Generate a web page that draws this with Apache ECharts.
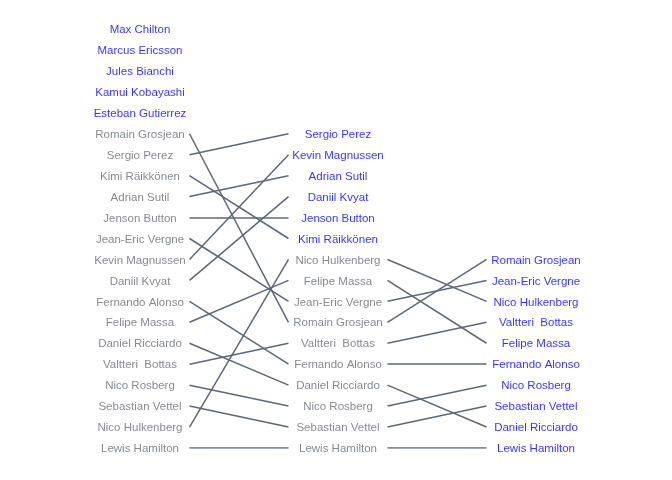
<!DOCTYPE html>
<html>
<head>
<meta charset="utf-8">
<script src="https://cdn.jsdelivr.net/npm/echarts@6/dist/echarts.min.js"></script>
<style>html,body{margin:0;padding:0;background:#fff}#c{width:672px;height:480px}</style>
</head>
<body>
<div id="c"></div>
<script>
var q1 = ["Max Chilton","Marcus Ericsson","Jules Bianchi","Kamui Kobayashi","Esteban Gutierrez","Romain Grosjean","Sergio Perez","Kimi Räikkönen","Adrian Sutil","Jenson Button","Jean-Eric Vergne","Kevin Magnussen","Daniil Kvyat","Fernando Alonso","Felipe Massa","Daniel Ricciardo","Valtteri  Bottas","Nico Rosberg","Sebastian Vettel","Nico Hulkenberg","Lewis Hamilton"];
var q2 = ["Sergio Perez","Kevin Magnussen","Adrian Sutil","Daniil Kvyat","Jenson Button","Kimi Räikkönen","Nico Hulkenberg","Felipe Massa","Jean-Eric Vergne","Romain Grosjean","Valtteri  Bottas","Fernando Alonso","Daniel Ricciardo","Nico Rosberg","Sebastian Vettel","Lewis Hamilton"];
var q3 = ["Romain Grosjean","Jean-Eric Vergne","Nico Hulkenberg","Valtteri  Bottas","Felipe Massa","Fernando Alonso","Nico Rosberg","Sebastian Vettel","Daniel Ricciardo","Lewis Hamilton"];
var columns = [q1, q2, q3];

var total = q1.length;
var GREY = '#676d78', BLUE = '#0000ff', LINE = '#5d6877';
var OFF = 0.25;

function rowOf(col, name) {
  var arr = columns[col];
  var i = arr.indexOf(name);
  return i < 0 ? -1 : i + (total - arr.length);
}

var series = [];
columns.forEach(function (arr, c) {
  var next = columns[c + 1];
  series.push({
    type: 'scatter',
    symbol: 'circle',
    symbolSize: 1,
    itemStyle: { color: 'rgba(0,0,0,0)' },
    silent: true,
    data: arr.map(function (n) {
      var out = !next || next.indexOf(n) < 0;
      return {
        value: [c + 1, rowOf(c, n)],
        label: { color: out ? BLUE : GREY }
      };
    }),
    label: {
      show: true,
      position: 'inside',
      offset: [0, 1],
      fontSize: 11.5,
      fontFamily: 'Liberation Sans, Arial, sans-serif',
      formatter: function (p) { return arr[p.dataIndex]; }
    }
  });
});

var links = [];
for (var c = 0; c < columns.length - 1; c++) {
  columns[c].forEach(function (n) {
    var r2 = rowOf(c + 1, n);
    if (r2 >= 0) {
      links.push({ coords: [[c + 1 + OFF, rowOf(c, n)], [c + 2 - OFF, r2]] });
    }
  });
}
series.push({
  type: 'lines',
  coordinateSystem: 'cartesian2d',
  silent: true,
  lineStyle: { color: LINE, width: 1.5, opacity: 1 },
  data: links
});

var chart = echarts.init(document.getElementById('c'));
chart.setOption({
  animation: false,
  grid: { left: 41, right: 37, top: 29, bottom: 32 },
  xAxis: { type: 'value', min: 0.5, max: 3.5, show: false },
  yAxis: { type: 'value', min: 0, max: total - 1, inverse: true, show: false },
  series: series
});
</script>
</body>
</html>
